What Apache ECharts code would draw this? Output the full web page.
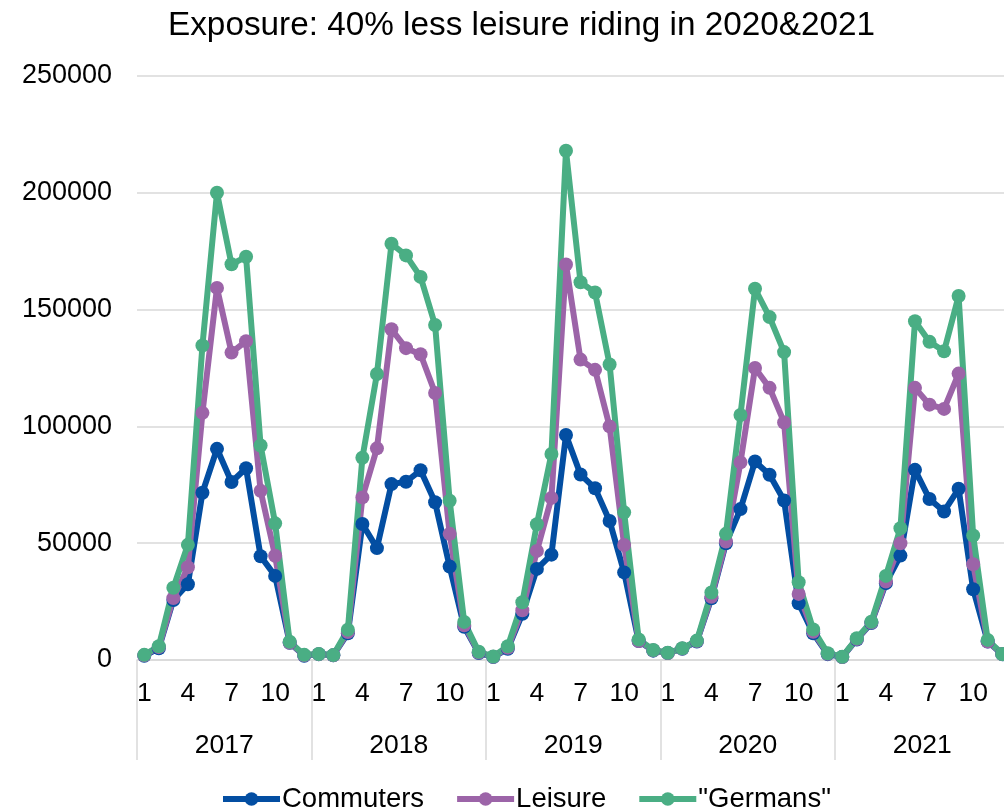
<!DOCTYPE html>
<html>
<head>
<meta charset="utf-8">
<title>Exposure</title>
<script src="https://cdn.jsdelivr.net/npm/echarts@6/dist/echarts.min.js"></script>
<style>
  html, body { margin: 0; padding: 0; background: #ffffff; }
  #chart { width: 1004px; height: 810px; }
</style>
</head>
<body>
<div id="chart"></div>
<script>
// Monthly exposure by rider group, 2017–2021
const years = ['2017', '2018', '2019', '2020', '2021'];
const months = [1, 2, 3, 4, 5, 6, 7, 8, 9, 10, 11, 12];

const commuters = [
  1800, 5000, 25700, 32400, 71600, 90400, 76200, 82100, 44400, 36000, 7400, 1800,
  2500, 2000, 11400, 58200, 47900, 75300, 76300, 81200, 67500, 40000, 14200, 3000,
  1300, 4800, 19800, 39000, 45100, 96300, 79400, 73500, 59500, 37500, 8100, 4000,
  3000, 4800, 7900, 26400, 50000, 64600, 85000, 79300, 68300, 24300, 11400, 2500,
  1300, 8800, 15800, 32900, 44700, 81400, 68900, 63600, 73300, 30300, 7900, 2500
];
const leisure = [
  2000, 5500, 26500, 39700, 105800, 159300, 131600, 136500, 72400, 44600, 7400, 2000,
  2500, 2000, 12000, 69600, 90600, 141600, 133500, 130900, 114300, 54000, 14900, 3200,
  1400, 5200, 21300, 46700, 69400, 169300, 128600, 124200, 100000, 49200, 8100, 4200,
  3000, 4900, 8100, 27100, 50700, 84600, 125000, 116500, 101700, 28300, 12100, 2700,
  1300, 9000, 16000, 33600, 50000, 116500, 109300, 107500, 122600, 41000, 7900, 2600
];
const germans = [
  2200, 5900, 30900, 49300, 134600, 200000, 169400, 172600, 91800, 58500, 7800, 2200,
  2600, 2100, 13000, 86600, 122400, 178200, 173200, 164000, 143400, 68200, 16300, 3500,
  1500, 5900, 24700, 58100, 88200, 218000, 161700, 157300, 126500, 63200, 8800, 4300,
  3100, 5000, 8300, 28900, 54000, 104900, 158900, 146800, 131800, 33300, 13100, 2900,
  1400, 9300, 16400, 36000, 56400, 145000, 136200, 132200, 155800, 53300, 8600, 2600
];

const seriesNames = ['Commuters', 'Leisure', '"Germans"'];
const seriesColors = ['#034ea2', '#9c64a8', '#4aae84'];

// One category per month, keyed "year-month"; the label shows only the month
const monthKeys = [];
years.forEach(y => months.forEach(m => monthKeys.push(y + '-' + m)));

const FONT = '"Liberation Sans", Arial, Helvetica, sans-serif';
const GRID_COLOR = '#d9d9d9';

const chart = echarts.init(document.getElementById('chart'), null, { renderer: 'canvas' });

function lineSeries(name, data, color) {
  return {
    name: name,
    type: 'line',
    data: data,
    xAxisIndex: 0,
    symbol: 'circle',
    symbolSize: 14,
    showAllSymbol: true,
    lineStyle: { width: 6, color: color },
    itemStyle: { color: color },
    emphasis: { disabled: true }
  };
}

chart.setOption({
  animation: false,
  textStyle: { fontFamily: FONT },
  title: {
    text: 'Exposure: 40% less leisure riding in 2020&2021',
    left: 163,
    top: 4,
    textStyle: { fontFamily: FONT, fontSize: 33.3, fontWeight: 'normal', color: '#000000' }
  },
  legend: {
    left: 220,
    top: 785,
    padding: 0,
    itemWidth: 57,
    itemHeight: 17,
    itemGap: 30,
    lineStyle: { width: 6 },
    textStyle: { fontFamily: FONT, fontSize: 27.5, color: '#000000', padding: [0, 0, 0, -3] },
    data: seriesNames
  },
  grid: {
    left: 137,
    right: -5.5,
    top: 76,
    bottom: 150,
    containLabel: false,
    outerBoundsMode: 'none'
  },
  xAxis: [
    {
      type: 'category',
      data: monthKeys,
      boundaryGap: true,
      position: 'bottom',
      axisLine: { show: true, lineStyle: { color: GRID_COLOR, width: 1.5 } },
      axisTick: { show: false },
      splitLine: { show: false },
      axisLabel: {
        interval: function (index) { return index % 3 === 0; },
        formatter: function (value) { return value.split('-')[1]; },
        fontFamily: FONT,
        fontSize: 26.5,
        color: '#000000',
        margin: 20
      }
    },
    {
      type: 'category',
      data: years,
      boundaryGap: true,
      position: 'bottom',
      axisLine: { show: false },
      axisTick: { show: true, length: 100, lineStyle: { color: GRID_COLOR, width: 1.5 } },
      splitLine: { show: false },
      axisLabel: {
        fontFamily: FONT,
        fontSize: 26.5,
        color: '#000000',
        margin: 72
      }
    }
  ],
  yAxis: {
    type: 'value',
    min: 0,
    max: 250000,
    interval: 50000,
    axisLine: { show: false },
    axisTick: { show: false },
    splitLine: { show: true, lineStyle: { color: GRID_COLOR, width: 1.5 } },
    axisLabel: {
      fontFamily: FONT,
      fontSize: 27,
      color: '#000000',
      margin: 25,
      formatter: function (v) { return String(v); }
    }
  },
  series: [
    lineSeries(seriesNames[0], commuters, seriesColors[0]),
    lineSeries(seriesNames[1], leisure, seriesColors[1]),
    lineSeries(seriesNames[2], germans, seriesColors[2])
  ]
});
</script>
</body>
</html>
